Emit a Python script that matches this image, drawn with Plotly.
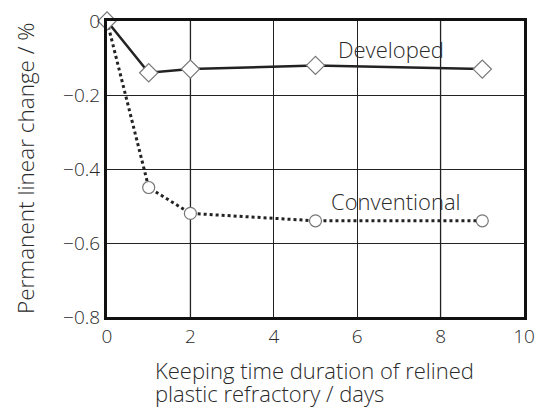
import plotly.graph_objects as go

days = [0, 1, 2, 5, 9]
developed = [0, -0.14, -0.13, -0.12, -0.13]
conventional = [0, -0.45, -0.52, -0.54, -0.54]
x_ticks = [0, 2, 4, 6, 8, 10]
y_ticks = [0, -0.2, -0.4, -0.6, -0.8]
y_tick_text = ["0", "\u22120.2", "\u22120.4", "\u22120.6", "\u22120.8"]
x_title_lines = ["Keeping time duration of relined", "plastic refractory / days"]
y_title = "Permanent linear change / %"

FONT = "Open Sans"
TXT = "#2a2a2a"

fig = go.Figure()
fig.add_trace(go.Scatter(
    x=days, y=conventional, mode="lines+markers", name="Conventional",
    line=dict(color="#222", width=3, dash="dot"),
    marker=dict(symbol="circle", size=12, color="white",
                line=dict(color="#777", width=1.2)),
    cliponaxis=False))
fig.add_trace(go.Scatter(
    x=days, y=developed, mode="lines+markers", name="Developed",
    line=dict(color="#222", width=2.5),
    marker=dict(symbol="diamond", size=14, color="white",
                line=dict(color="#777", width=1.2)),
    cliponaxis=False))

for xv in [2, 8]:
    fig.add_shape(type="line", xref="x", yref="y", x0=xv, x1=xv, y0=-0.8, y1=0,
                  line=dict(color="#777", width=1.5), layer="below")

fig.add_annotation(x=6.8, y=-0.075, text="Developed", showarrow=False,
                   font=dict(family=FONT, size=22, color=TXT, weight=300))
fig.add_annotation(x=6.92, y=-0.486, text="Conventional", showarrow=False,
                   font=dict(family=FONT, size=22, color=TXT, weight=300))

for i, (line, yy) in enumerate(zip(x_title_lines, [-0.179, -0.257])):
    fig.add_annotation(xref="paper", yref="paper", x=0.110, y=yy, yanchor="middle",
                       xanchor="left", text=line, showarrow=False,
                       font=dict(family=FONT, size=22, color=TXT, weight=300))
fig.add_annotation(xref="paper", yref="paper", x=-0.197, y=0.503, xanchor="center",
                   yanchor="middle", textangle=-90,
                   text=y_title, showarrow=False,
                   font=dict(family=FONT, size=22.5, color=TXT, weight=300))

fig.update_layout(
    width=535, height=401,
    margin=dict(l=99, r=19, t=13, b=92),
    paper_bgcolor="white", plot_bgcolor="white",
    showlegend=False,
    font=dict(family=FONT, size=18, color=TXT, weight=300),
    xaxis=dict(range=[0, 10], tickvals=x_ticks, ticks="", showgrid=True,
               gridcolor="#222", gridwidth=1.2, zeroline=False, automargin=False,
               ticklabeloverflow="allow",
               showline=True, linecolor="#111", linewidth=3, mirror=True,
               tickfont=dict(family=FONT, size=19, color=TXT, weight=300)),
    yaxis=dict(range=[-0.8, 0], tickvals=y_ticks, ticktext=y_tick_text, ticks="",
               showgrid=True, gridcolor="#222", gridwidth=1.2, zeroline=False,
               automargin=False, ticklabeloverflow="allow",
               showline=True, linecolor="#111", linewidth=3, mirror=True,
               tickfont=dict(family=FONT, size=19, color=TXT, weight=300)),
)

fig.write_html("out.html")
